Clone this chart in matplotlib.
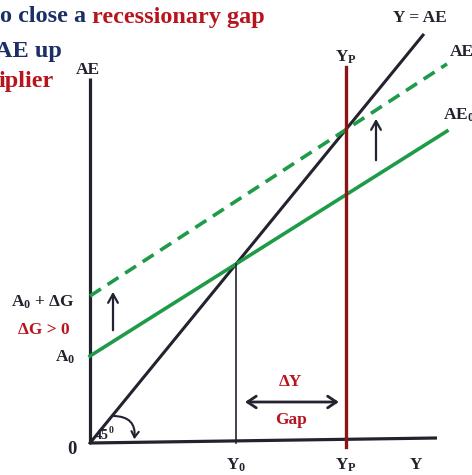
import matplotlib
matplotlib.use("Agg")
import numpy as np
from matplotlib import pyplot as plt
from matplotlib.patches import FancyArrowPatch

plt.rcParams['font.family'] = ['Liberation Serif', 'DejaVu Serif']
plt.rcParams['font.weight'] = 'bold'
plt.rcParams['mathtext.fontset'] = 'custom'
plt.rcParams['mathtext.rm'] = 'Liberation Serif:bold'
plt.rcParams['mathtext.bf'] = 'Liberation Serif:bold'
plt.rcParams['mathtext.it'] = 'Liberation Serif:bold'

# model (screen units from the origin, y up)
k45 = 1.225            # slope of the Y = AE line
A0 = 87                # autonomous spending before
dG = 60                # increase in government spending
mpe = 0.63             # slope of AE0
mpe_new = 0.65         # slope of AE after the shift
y_end_45 = 333
y_end_ae = 357
y_axis_top = 365
x_axis_end = 347
x_axis_rise = 5
Y0 = A0 / (k45 - mpe)
YP = (A0 + dG) / (k45 - mpe_new)

navy = '#1B2F64'
red = '#B8141E'
darkred = '#8B1515'
green = '#1E9B48'
ink = '#23232F'

fig = plt.figure(figsize=(4.72, 4.75), dpi=100)
ax = fig.add_axes([0, 0, 1, 1])
ax.set_xlim(-90, 382)
ax.set_ylim(-32, 443)
ax.axis('off')

# axes
ax.plot([0, 0], [0, y_axis_top], color=ink, lw=2.3, solid_capstyle='butt')
ax.plot([0, x_axis_end], [0, x_axis_rise], color=ink, lw=2.3, solid_capstyle='butt')

# 45 degree line
xs = np.array([0, y_end_45])
ax.plot(xs, k45 * xs, color=ink, lw=2.2)

# AE curves
xa = np.array([0, y_end_ae])
ax.plot(xa, A0 + mpe * xa, color=green, lw=2.6)
ax.plot(xa, A0 + dG + mpe_new * xa, color=green, lw=2.6, ls=(0, (3.6, 2.2)))

# Y0 and potential output
ax.plot([Y0, Y0], [0, k45 * Y0], color=ink, lw=1.2)
ax.plot([YP, YP], [-4, 376], color=darkred, lw=2.4)

# shift arrows
arrow_kw = dict(arrowstyle='->,head_length=0.45,head_width=0.25', color=ink, lw=1.6, mutation_scale=14)
ax.add_patch(FancyArrowPatch((23, 110), (23, 154), **arrow_kw))
ax.add_patch(FancyArrowPatch((286, 280), (286, 327), **arrow_kw))
ax.add_patch(FancyArrowPatch((Y0 + 6, 41), (YP - 4, 41),
                             arrowstyle='<->,head_length=0.45,head_width=0.3', color=ink, lw=2.0,
                             mutation_scale=14))

# 45 degree arc
ax.add_patch(FancyArrowPatch((21, 27), (44, 1), connectionstyle='arc3,rad=-0.6',
                             arrowstyle='->,head_length=0.35,head_width=0.22', color=ink, lw=1.5,
                             mutation_scale=12))
ax.text(5, 1, '45', fontsize=10, color=ink, ha='left', va='bottom', zorder=5)
ax.text(19, 8, '0', fontsize=7, color=ink, ha='left', va='bottom', zorder=5)

fs = 12.5
ax.text(-2, 373, 'AE', fontsize=fs, color=ink, ha='center', va='center')
ax.text(330, 425, 'Y = AE', fontsize=fs, color=ink, ha='center', va='center')
ax.text(360, 391, 'AE', fontsize=fs, color=ink, ha='left', va='center')
ax.text(353, 328, r'$\mathregular{AE_0}$', fontsize=fs, color=ink, ha='left', va='center')
ax.text(YP, 386, r'$\mathregular{Y_P}$', fontsize=fs, color=ink, ha='center', va='center')
ax.text(-15, 141, r'$\mathregular{A_0}$ + ΔG', fontsize=fs, color=ink, ha='right', va='center')
ax.text(-20, 113, 'ΔG > 0', fontsize=fs, color=red, ha='right', va='center')
ax.text(-15, 86, r'$\mathregular{A_0}$', fontsize=fs, color=ink, ha='right', va='center')
ax.text(-18, -7, '0', fontsize=fs + 1, color=ink, ha='center', va='center')
ax.text(Y0, -22, r'$\mathregular{Y_0}$', fontsize=fs, color=ink, ha='center', va='center')
ax.text(YP, -22, r'$\mathregular{Y_P}$', fontsize=fs, color=ink, ha='center', va='center')
ax.text(326, -22, 'Y', fontsize=fs, color=ink, ha='center', va='center')
ax.text((Y0 + YP) / 2, 61, 'ΔY', fontsize=fs, color=red, ha='center', va='center')
ax.text((Y0 + YP) / 2, 23, 'Gap', fontsize=fs, color=red, ha='center', va='center')

# heading, cut at the left edge
ts = 17.5
t1 = fig.text(0.0, 1 - 17 / 475, 'o close a ', fontsize=ts, color=navy, ha='left', va='center')
ax.annotate('recessionary gap', xy=(1, 0.5), xycoords=t1, fontsize=ts, color=red,
            ha='left', va='center', annotation_clip=False)
fig.text(-0.01, 1 - 51 / 475, 'AE up', fontsize=ts, color=navy, ha='left', va='center')
fig.text(-0.004, 1 - 81 / 475, 'iplier', fontsize=ts, color=red, ha='left', va='center')

fig.savefig('out.png', dpi=100)
